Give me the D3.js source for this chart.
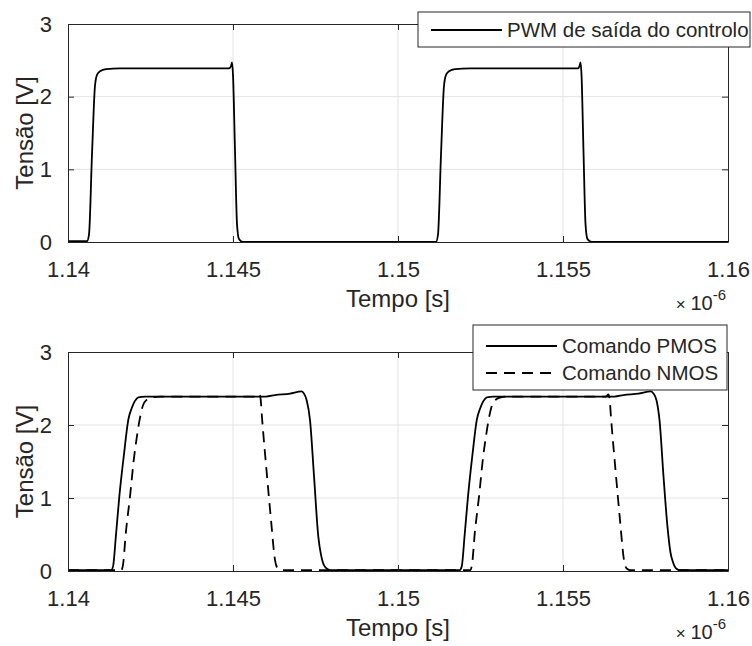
<!DOCTYPE html>
<html>
<head>
<meta charset="utf-8">
<script src="https://cdn.jsdelivr.net/npm/d3@7"></script>
<style>
  body { margin: 0; background: #fff; }
  text { font-family: "Liberation Sans", Arial, sans-serif; fill: #262626; }
</style>
</head>
<body>
<div id="chart"></div>
<script>
// time axis values are in units of 1e-6 s (shown as x10^-6)
const xTicks = [1.14, 1.145, 1.15, 1.155, 1.16];
const xTickLabels = ["1.14", "1.145", "1.15", "1.155", "1.16"];
const yTicks = [0, 1, 2, 3];

// top panel: PWM output
const pwmTime = [1.140000, 1.140576, 1.140636, 1.140727, 1.140818, 1.140879, 1.140970, 1.141152, 1.141576,
  1.144879, 1.144939, 1.144970, 1.145000, 1.145061, 1.145121, 1.145182, 1.145303,
  1.151152, 1.151212, 1.151303, 1.151394, 1.151455, 1.151545, 1.151727, 1.152182,
  1.155455, 1.155500, 1.155530, 1.155561, 1.155621, 1.155682, 1.155742, 1.155879, 1.160000];
const pwmVolts = [0.01, 0.01, 0.1, 1.2, 2.15, 2.3, 2.35, 2.38, 2.39,
  2.39, 2.42, 2.47, 2.3, 1.25, 0.25, 0.04, 0.0,
  0.0, 0.1, 1.2, 2.15, 2.3, 2.35, 2.38, 2.39,
  2.39, 2.42, 2.47, 2.3, 1.25, 0.25, 0.04, 0.0, 0.0];

// bottom panel: PMOS command (solid)
const pmosTime = [1.140000, 1.141303, 1.141364, 1.141455, 1.141555, 1.141697, 1.141827, 1.141930, 1.142030, 1.142130, 1.142333,
  1.146000, 1.146273, 1.146727, 1.147082, 1.147152, 1.147233, 1.147333, 1.147455, 1.147585, 1.147667, 1.147736, 1.147848, 1.147970,
  1.151864, 1.151930, 1.152021, 1.152121, 1.152258, 1.152388, 1.152491, 1.152591, 1.152691, 1.152894,
  1.156561, 1.156833, 1.157288, 1.157667, 1.157742, 1.157833, 1.157924, 1.158045, 1.158167, 1.158258, 1.158333, 1.158439, 1.158561, 1.160000];
const pmosVolts = [0.01, 0.01, 0.06, 0.5, 1.02, 1.6, 2.07, 2.23, 2.33, 2.38, 2.39,
  2.39, 2.41, 2.43, 2.46, 2.43, 2.34, 2.07, 1.3, 0.47, 0.22, 0.1, 0.03, 0.01,
  0.01, 0.06, 0.5, 1.02, 1.6, 2.07, 2.23, 2.33, 2.38, 2.39,
  2.39, 2.41, 2.43, 2.46, 2.43, 2.34, 2.07, 1.3, 0.6, 0.25, 0.12, 0.03, 0.01, 0.01];

// bottom panel: NMOS command (dashed)
const nmosTime = [1.140000, 1.141606, 1.141658, 1.141758, 1.141879, 1.142000, 1.142091, 1.142182, 1.142273, 1.142394, 1.142545, 1.142788,
  1.145727, 1.145797, 1.145833, 1.145879, 1.146021, 1.146152, 1.146273, 1.146364, 1.146485,
  1.152182, 1.152233, 1.152333, 1.152455, 1.152576, 1.152667, 1.152758, 1.152848, 1.152970, 1.153121, 1.153364,
  1.156303, 1.156373, 1.156409, 1.156455, 1.156597, 1.156727, 1.156848, 1.156939, 1.157061, 1.160000];
const nmosVolts = [0.01, 0.01, 0.06, 0.55, 1.02, 1.55, 1.85, 2.1, 2.27, 2.35, 2.38, 2.39,
  2.39, 2.42, 2.37, 2.1, 1.35, 0.7, 0.15, 0.03, 0.01,
  0.01, 0.06, 0.55, 1.02, 1.55, 1.85, 2.1, 2.27, 2.35, 2.38, 2.39,
  2.39, 2.42, 2.37, 2.1, 1.35, 0.7, 0.15, 0.03, 0.01, 0.01];

const W = 752, H = 646;
const axisColor = "#262626";
const gridColor = "#e3e3e3";

const svg = d3.select("#chart").append("svg")
  .attr("width", W)
  .attr("height", H);

function zip(t, v) { return t.map((d, i) => ({ t: d, v: v[i] })); }

function drawPanel(cfg) {
  const g = svg.append("g").attr("transform", "translate(" + cfg.left + "," + cfg.top + ")");
  const w = cfg.width, h = cfg.height;

  const x = d3.scaleLinear().domain([1.14, 1.16]).range([0, w]);
  const y = d3.scaleLinear().domain([0, 3]).range([h, 0]);

  // grid
  g.append("g").selectAll("line.gx").data(xTicks.slice(1, -1)).enter().append("line")
    .attr("x1", d => x(d)).attr("x2", d => x(d))
    .attr("y1", 0).attr("y2", h)
    .attr("stroke", gridColor).attr("stroke-width", 1);
  g.append("g").selectAll("line.gy").data(yTicks.slice(1, -1)).enter().append("line")
    .attr("x1", 0).attr("x2", w)
    .attr("y1", d => y(d)).attr("y2", d => y(d))
    .attr("stroke", gridColor).attr("stroke-width", 1);

  // clip for the traces
  const clipId = "clip" + cfg.id;
  g.append("clipPath").attr("id", clipId)
    .append("rect").attr("x", 0).attr("y", 0).attr("width", w).attr("height", h);

  const line = d3.line()
    .x(d => x(d.t))
    .y(d => y(d.v))
    .curve(d3.curveMonotoneX);

  cfg.series.forEach(s => {
    g.append("path")
      .datum(zip(s.t, s.v))
      .attr("clip-path", "url(#" + clipId + ")")
      .attr("fill", "none")
      .attr("stroke", "#000")
      .attr("stroke-width", 1.8)
      .attr("stroke-dasharray", s.dash || null)
      .attr("d", line);
  });

  // axes with inward ticks on all four sides
  const tickLen = 6;
  g.append("g")
    .attr("transform", "translate(0," + h + ")")
    .call(d3.axisBottom(x).tickValues(xTicks).tickFormat((d, i) => xTickLabels[i])
      .tickSizeInner(-tickLen).tickSizeOuter(0).tickPadding(19))
    .call(a => a.select(".domain").attr("stroke", axisColor))
    .call(a => a.selectAll("line").attr("stroke", axisColor))
    .call(a => a.selectAll("text").style("font-size", "22px").attr("fill", axisColor));

  g.append("g")
    .call(d3.axisTop(x).tickValues(xTicks).tickFormat("").tickSizeInner(-tickLen).tickSizeOuter(0))
    .call(a => a.select(".domain").attr("stroke", axisColor))
    .call(a => a.selectAll("line").attr("stroke", axisColor));

  g.append("g")
    .call(d3.axisLeft(y).tickValues(yTicks).tickFormat(d3.format("d"))
      .tickSizeInner(-tickLen).tickSizeOuter(0).tickPadding(16))
    .call(a => a.select(".domain").attr("stroke", axisColor))
    .call(a => a.selectAll("line").attr("stroke", axisColor))
    .call(a => a.selectAll("text").style("font-size", "22px").attr("fill", axisColor));

  g.append("g")
    .attr("transform", "translate(" + w + ",0)")
    .call(d3.axisRight(y).tickValues(yTicks).tickFormat("").tickSizeInner(-tickLen).tickSizeOuter(0))
    .call(a => a.select(".domain").attr("stroke", axisColor))
    .call(a => a.selectAll("line").attr("stroke", axisColor));

  // axis labels
  g.append("text")
    .attr("transform", "rotate(-90)")
    .attr("x", -h / 2)
    .attr("y", 33 - cfg.left)
    .style("text-anchor", "middle")
    .style("font-size", "24px")
    .text("Tensão [V]");

  g.append("text")
    .attr("x", w / 2)
    .attr("y", h + 65)
    .style("text-anchor", "middle")
    .style("font-size", "24px")
    .text("Tempo [s]");

  // exponent label
  const ex = g.append("text")
    .attr("x", w - 2)
    .attr("y", h + 68)
    .style("text-anchor", "end")
    .style("font-size", "20px");
  ex.append("tspan").style("font-size", "17px").text("× ");
  ex.append("tspan").style("font-size", "20px").text("10");
  ex.append("tspan").attr("dy", -10).style("font-size", "15px").text("-6");

  // legend
  const lg = cfg.legend;
  const leg = svg.append("g").attr("transform", "translate(" + lg.x + "," + lg.y + ")");
  leg.append("rect")
    .attr("width", lg.w).attr("height", lg.h)
    .attr("fill", "#fff").attr("stroke", axisColor).attr("stroke-width", 1);
  lg.items.forEach((it, i) => {
    const cy = lg.first + i * 27;
    leg.append("line")
      .attr("x1", 13).attr("x2", 84)
      .attr("y1", cy).attr("y2", cy)
      .attr("stroke", "#000").attr("stroke-width", 1.8)
      .attr("stroke-dasharray", it.dash || null);
    leg.append("text")
      .attr("x", 89).attr("y", cy)
      .attr("dy", "0.36em")
      .style("font-size", "20.5px")
      .text(it.label);
  });
}

drawPanel({
  id: 1, left: 68, top: 24, width: 660, height: 218,
  series: [{ t: pwmTime, v: pwmVolts }],
  legend: { x: 418, y: 12, w: 332, h: 35, first: 18,
    items: [{ label: "PWM de saída do controlo" }] }
});

drawPanel({
  id: 2, left: 68, top: 352, width: 660, height: 219,
  series: [
    { t: pmosTime, v: pmosVolts },
    { t: nmosTime, v: nmosVolts, dash: "11,7" }
  ],
  legend: { x: 473, y: 325, w: 254, h: 65, first: 21,
    items: [{ label: "Comando PMOS" }, { label: "Comando NMOS", dash: "11,7" }] }
});
</script>
</body>
</html>
